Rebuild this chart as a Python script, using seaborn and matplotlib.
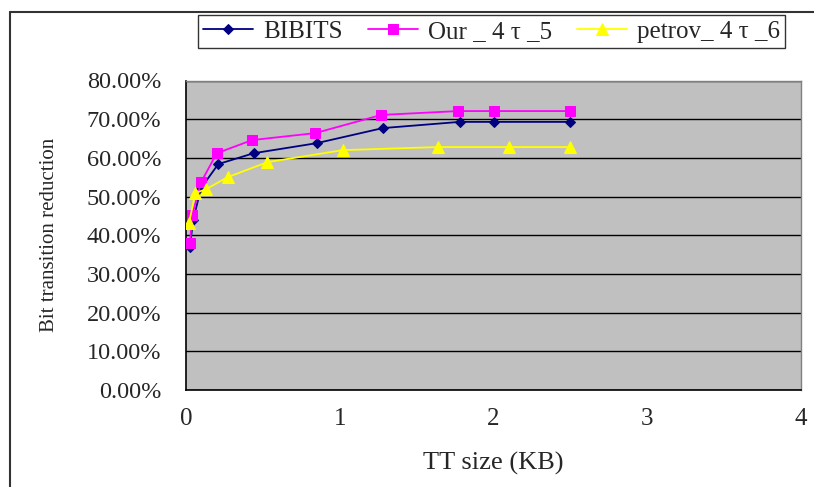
import pandas as pd
import numpy as np
import seaborn as sns
import matplotlib.pyplot as plt
from matplotlib.ticker import PercentFormatter
from matplotlib.lines import Line2D

# values (TT size in KB, reduction in %)
bibits_x = [0.026, 0.046, 0.098, 0.21, 0.44, 0.85, 1.28, 1.78, 2.0, 2.5]
bibits_y = [37.0, 43.9, 52.2, 58.4, 61.2, 63.8, 67.7, 69.3, 69.3, 69.3]

our_x = [0.026, 0.04, 0.098, 0.20, 0.43, 0.84, 1.27, 1.77, 2.0, 2.5]
our_y = [38.0, 45.2, 53.7, 61.2, 64.6, 66.4, 71.1, 72.1, 72.1, 72.1]

petrov_x = [0.02, 0.06, 0.13, 0.27, 0.53, 1.02, 1.64, 2.1, 2.5]
petrov_y = [43.2, 50.9, 51.9, 55.0, 58.9, 62.0, 62.8, 62.8, 62.8]

labels = ['BIBITS', 'Our _ 4 \u03c4 _5', 'petrov_ 4 \u03c4 _6']
colors = ['#000080', '#FF00FF', '#FFFF00']
markers = ['D', 's', '^']
msizes = [5.5, 6.5, 8]

sns.set_style('white')
plt.rcParams['font.family'] = ['Liberation Serif', 'DejaVu Serif']

fig = plt.figure(figsize=(8.14, 4.87), dpi=100)
ax = fig.add_axes([186 / 814, 1 - 390 / 487, 615 / 814, 309.5 / 487])
ax.set_facecolor('#C0C0C0')

series = [(bibits_x, bibits_y), (our_x, our_y), (petrov_x, petrov_y)]
for (xs, ys), lab, c, m, ms in zip(series, labels, colors, markers, msizes):
    df = pd.DataFrame({'x': xs, 'y': ys})
    sns.lineplot(data=df, x='x', y='y', ax=ax, color=c, marker=m,
                 markersize=ms, markeredgecolor=c, linewidth=1.3, label=lab,
                 zorder=3)

ax.set_xlim(0, 4)
ax.set_ylim(0, 80)
ax.set_xticks([0, 1, 2, 3, 4])
ax.set_yticks(np.arange(0, 81, 10))
ax.yaxis.set_major_formatter(PercentFormatter(decimals=2))
ax.grid(axis='y', color='black', linewidth=1.0, zorder=1)
ax.set_axisbelow(True)

for s in ['top', 'right']:
    ax.spines[s].set_color('#808080')
    ax.spines[s].set_linewidth(1.0)
for s in ['left', 'bottom']:
    ax.spines[s].set_color('black')
    ax.spines[s].set_linewidth(1.2)

ax.tick_params(axis='x', direction='in', length=5, width=1, pad=13,
               labelsize=18, color='black')
ax.tick_params(axis='y', length=0, pad=18, labelsize=17.5)

ax.set_xlabel('TT size (KB)', fontsize=19, labelpad=16)
ax.set_ylabel('Bit transition reduction', fontsize=15, labelpad=20)

ax.get_legend().remove()
handles, labs = ax.get_legend_handles_labels()
leg = fig.legend(handles, labs, loc='center', ncol=3,
                 bbox_to_anchor=(491.5 / 814, 1 - 31.5 / 487),
                 fontsize=18, frameon=True, fancybox=False,
                 edgecolor='black', handlelength=2.0, columnspacing=1.0,
                 handletextpad=0.4, borderpad=0.2)
leg.get_frame().set_linewidth(1.0)

# outer chart frame
fig.add_artist(Line2D([9.5 / 814, 9.5 / 814], [0, 1 - 12 / 487],
                      color='#333333', linewidth=1.5, transform=fig.transFigure))
fig.add_artist(Line2D([9.5 / 814, 1], [1 - 12 / 487, 1 - 12 / 487],
                      color='#333333', linewidth=1.5, transform=fig.transFigure))

fig.savefig('out.png', dpi=100)
